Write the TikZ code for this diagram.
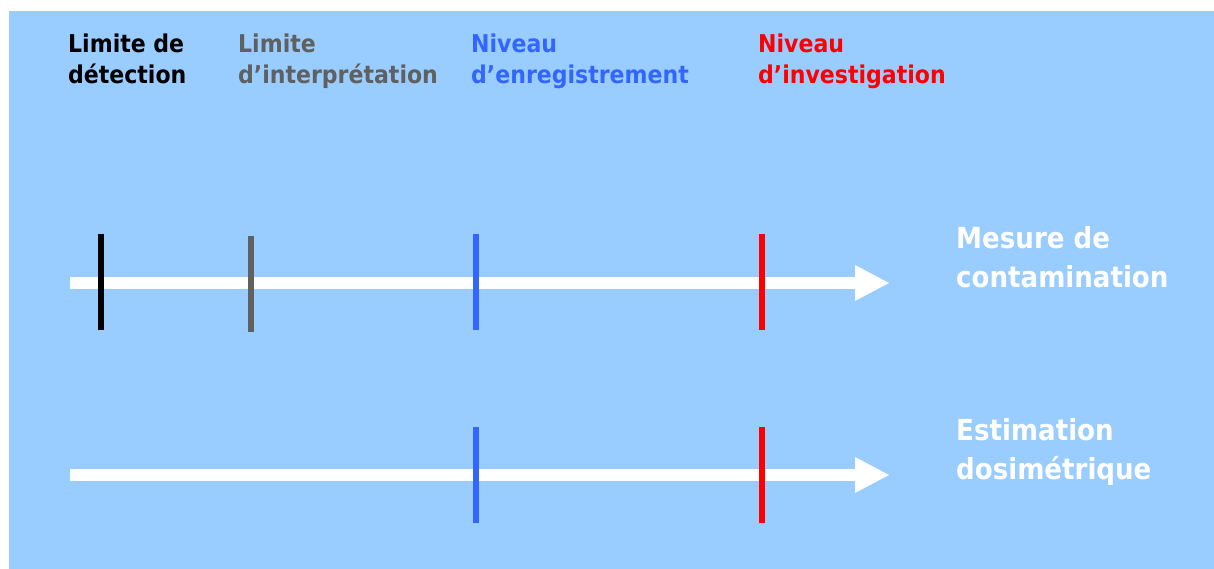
\documentclass[tikz,border=0pt]{standalone}
\usepackage{fontspec}
\setmainfont{DejaVu Sans Condensed}[BoldFont={DejaVu Sans Condensed Bold}]
\definecolor{fond}{HTML}{99CCFF}
\definecolor{bleu}{HTML}{3366FF}
\definecolor{gris}{HTML}{606060}
\definecolor{rouge}{HTML}{FF0000}
\tikzset{
  seuil/.style={line width=6pt},
  axe/.style={white, line width=12pt},
  titre/.style={anchor=north west, inner sep=0pt, align=left,
    font=\bfseries\fontsize{24.5}{31}\selectfont},
  grandeur/.style={anchor=north west, inner sep=0pt, align=left, white,
    font=\bfseries\fontsize{29}{39}\selectfont}
}
\begin{document}
\begin{tikzpicture}[x=1pt, y=-1pt]
    \useasboundingbox (0,0) rectangle (1214,569);
    \fill[white] (0,0) rectangle (1214,569);
    \fill[fond] (9,11) rectangle (1214,569);

    % titres des seuils
    \node[titre, black] (detect) at (68,34) {Limite de\\détection};
    \node[titre, gris] (interp) at (238,34) {Limite\\d’interprétation};
    \node[titre, bleu] (enreg) at (471,34) {Niveau\\d’enregistrement};
    \node[titre, rouge] (invest) at (758,34) {Niveau\\d’investigation};

    % axes
    \foreach \y/\n in {283/mesure, 475/estim} {
        \coordinate (\n-a) at (70,\y);
        \coordinate (\n-b) at (855,\y);
        \draw[axe] (\n-a) -- (\n-b);
        \fill[white] (855,\y-18) -- (889,\y) -- (855,\y+18) -- cycle;
    }

    \node[grandeur] (lmesure) at (956,226) {Mesure de\\contamination};
    \node[grandeur] (lestim) at (956,418) {Estimation\\dosimétrique};

    % seuils sur les axes
    \draw[seuil, black] (101,234) -- (101,330);
    \draw[seuil, gris] (251,236) -- (251,332);
    \foreach \y in {234, 427} {
        \draw[seuil, bleu] (476,\y) -- (476,\y+96);
        \draw[seuil, rouge] (762,\y) -- (762,\y+96);
    }
\end{tikzpicture}
\end{document}
